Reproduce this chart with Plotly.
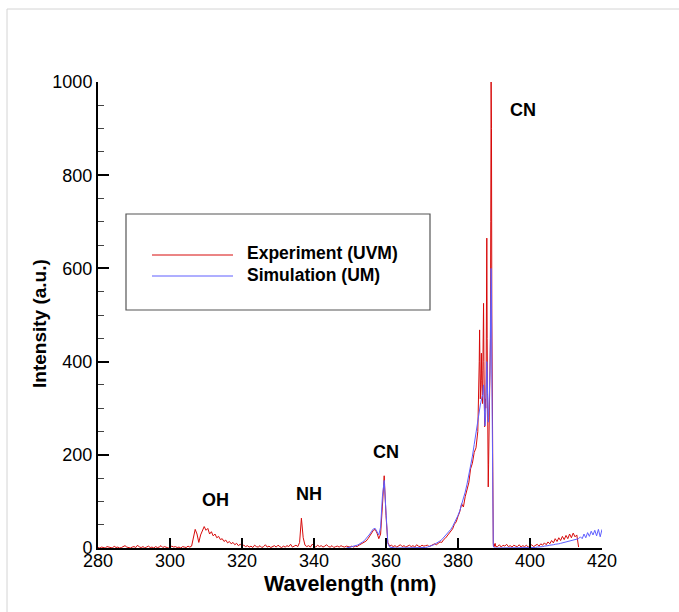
import plotly.graph_objects as go

# ---------------- Experiment (UVM) ----------------
# intensities on regular wavelength grids: (start nm, step nm)
exp_a_start, exp_a_step = 280.0, 0.5
exp_a = [1, 0, 2, 1, 0, 3, 2, 1, 0, 4, 1, 2, 0, 1, 3, 5, 2, 1, 0, 2,
         3, 1, 6, 2, 1, 3, 0, 2, 4, 1, 2, 0, 3, 1, 2, 5, 1, 3, 2, 0,
         1, 4, 2, 3, 1, 2, 0, 3, 2, 1, 4, 2]
exp_b_start, exp_b_step = 306.0, 0.5   # OH band
exp_b = [4, 20, 40, 30, 12, 28, 36, 46, 38, 42, 30, 35, 26, 30, 22, 25,
         18, 20, 14, 17, 11, 14, 9, 12, 7, 10, 5, 8, 4, 6, 3, 5]
exp_c_start, exp_c_step = 322.0, 0.5
exp_c = [2, 4, 1, 6, 3, 2, 5, 1, 3, 7, 2, 4, 1, 3, 5, 2, 6, 3, 1, 4,
         2, 5, 3, 8, 2, 4, 6, 3]
exp_d_start, exp_d_step = 336.0, 0.5   # NH line
exp_d = [12, 64, 22, 6]
exp_e_start, exp_e_step = 338.0, 0.5
exp_e = [3, 5, 2, 8, 4, 2, 6, 3, 5, 2, 4, 7, 3, 2, 5, 1, 3, 4, 2, 5,
         3, 2, 4, 3, 2, 4]
exp_f_start, exp_f_step = 351.0, 0.5   # CN (0,1) band
exp_f = [2, 4, 3, 6, 8, 10, 12, 15, 20, 26, 33, 38, 40, 32, 20, 30,
         90, 155, 70, 12, 4, 6, 3, 5]
exp_g_start, exp_g_step = 363.0, 0.5
exp_g = [2, 4, 7, 3, 5, 2, 4, 6, 3, 5, 2, 7, 4, 3, 6, 4, 5, 6, 3, 5]
exp_h_start, exp_h_step = 373.0, 0.5   # CN (0,0) band rise
exp_h = [6, 9, 7, 11, 13, 12, 18, 21, 26, 29, 36, 41, 51, 56, 68, 78,
         95, 88, 110, 128, 140, 170, 182, 205, 215, 250]
exp_i_start, exp_i_step = 385.6, 0.1   # CN (0,0) band head
exp_i = [280, 300, 330, 400, 468, 380, 320, 350, 375, 418,
         360, 330, 310, 380, 470, 525, 400, 300, 260, 290,
         320, 300, 350, 500, 665, 450, 250, 140, 131, 180,
         250, 300, 280, 320, 450, 700, 1000, 900, 500, 300,
         150, 50, 10, 5, 3, 8, 4, 10, 6, 3]
exp_j_start, exp_j_step = 391.0, 0.5
exp_j = [3, 7, 2, 6, 4, 8, 3, 5, 2, 6, 4, 3, 7, 2, 5, 3, 6, 2,
         4, 7, 3, 5, 8, 4, 9, 6, 11, 7, 13, 9, 16, 11, 20, 14, 22, 16,
         25, 18, 27, 20, 30, 22, 32, 24, 28, 2]

# ---------------- Simulation (UM) ----------------
sim_a_start, sim_a_step = 349.0, 0.5
sim_a = [0, 1, 1, 2, 3, 4, 6, 8, 10, 13, 16, 20, 25, 30, 36, 41, 42, 36,
         28, 45, 110, 145, 60, 10, 2, 1, 0, 0]
sim_b_start, sim_b_step = 363.0, 0.5
sim_b = [0, 0, 0, 0, 0, 0, 0, 0, 0, 0, 0, 0, 0, 0, 0,
         1, 1, 2, 3, 4, 6, 8, 10, 12, 15, 18, 22, 26, 30, 35, 40, 46,
         53, 61, 70, 80, 92, 105, 120, 137, 155, 175, 197, 222, 250, 275]
sim_c_start, sim_c_step = 385.6, 0.1
sim_c = [280, 285, 290, 295, 300, 305, 308, 312, 315, 318,
         320, 318, 322, 330, 345, 350, 330, 300, 275, 262,
         270, 290, 320, 360, 400, 380, 330, 290, 270, 280,
         300, 320, 340, 380, 450, 540, 600, 560, 380, 200,
         80, 20, 5, 2, 0, 0, 0, 0, 0, 0]
sim_d_start, sim_d_step = 391.0, 0.5
sim_d = [0] * 18 + [0, 1, 1, 1, 2, 2, 3, 3, 4, 4, 5, 6, 6, 7, 8, 8, 9, 10,
                    11, 12, 13, 14, 15, 16, 17, 18, 19, 20, 24, 20, 30, 22,
                    33, 25, 36, 28, 38, 26, 40, 24, 40]

x_ticks = [280, 300, 320, 340, 360, 380, 400, 420]
y_ticks = [0, 200, 400, 600, 800, 1000]


def grid(start, step, vals):
    return [round(start + step * i, 3) for i in range(len(vals))]


exp_x, exp_y = [], []
for s, d, v in [(exp_a_start, exp_a_step, exp_a), (exp_b_start, exp_b_step, exp_b),
                (exp_c_start, exp_c_step, exp_c), (exp_d_start, exp_d_step, exp_d),
                (exp_e_start, exp_e_step, exp_e), (exp_f_start, exp_f_step, exp_f),
                (exp_g_start, exp_g_step, exp_g), (exp_h_start, exp_h_step, exp_h),
                (exp_i_start, exp_i_step, exp_i), (exp_j_start, exp_j_step, exp_j)]:
    exp_x += grid(s, d, v)
    exp_y += v

sim_x, sim_y = [], []
for s, d, v in [(sim_a_start, sim_a_step, sim_a), (sim_b_start, sim_b_step, sim_b),
                (sim_c_start, sim_c_step, sim_c), (sim_d_start, sim_d_step, sim_d)]:
    sim_x += grid(s, d, v)
    sim_y += v

RED = "rgb(215,10,10)"
BLUE = "rgb(95,95,255)"
FONT = "Liberation Sans, Arial, Helvetica, sans-serif"

fig = go.Figure()
fig.add_trace(go.Scatter(x=exp_x, y=exp_y, mode="lines", name="Experiment (UVM)",
                         line=dict(color=RED, width=1)))
fig.add_trace(go.Scatter(x=sim_x, y=sim_y, mode="lines", name="Simulation (UM)",
                         line=dict(color=BLUE, width=1)))

fig.update_layout(
    width=679, height=612,
    margin=dict(l=98, r=77, t=82, b=64),
    paper_bgcolor="white", plot_bgcolor="white",
    showlegend=False,
    font=dict(family=FONT, color="black", size=18),
)
fig.update_xaxes(range=[280, 420], tickvals=x_ticks, ticks="inside", ticklen=10,
                 tickwidth=2, tickcolor="black", showline=True, linecolor="black",
                 linewidth=2, showgrid=False, zeroline=False,
                 ticklabelstandoff=-5,
                 tickfont=dict(size=18, family=FONT))
fig.update_yaxes(range=[0, 1000], tickvals=y_ticks, ticks="inside", ticklen=11,
                 tickwidth=2, tickcolor="black", showline=True, linecolor="black",
                 linewidth=2, showgrid=False, zeroline=False,
                 tickfont=dict(size=18, family=FONT),
                 minor=dict(ticks="inside", ticklen=6, tickwidth=1,
                            tickcolor="#444", dtick=50, showgrid=False))


def px2x(px):
    return (px - 98) / 504


def py2y(py):
    return (548 - py) / 466


# axis titles
fig.add_annotation(text="<b>Wavelength (nm)</b>", xref="paper", yref="paper",
                   x=0.5, y=py2y(584), showarrow=False, yanchor="middle",
                   font=dict(size=21.5, family=FONT))
fig.add_annotation(text="<b>Intensity (a.u.)</b>", xref="paper", yref="paper",
                   x=px2x(39), y=py2y(324), showarrow=False, textangle=-90,
                   xanchor="center", yanchor="middle",
                   font=dict(size=19, family=FONT))

# band labels
for txt, px, py in [("CN", 523, 110), ("CN", 386, 452), ("NH", 309, 494), ("OH", 215, 500)]:
    fig.add_annotation(text="<b>%s</b>" % txt, xref="paper", yref="paper",
                       x=px2x(px), y=py2y(py), showarrow=False,
                       xanchor="center", yanchor="middle",
                       font=dict(size=18, family=FONT))

# hand-drawn legend box
fig.add_shape(type="rect", xref="paper", yref="paper",
              x0=px2x(126), x1=px2x(430), y0=py2y(310), y1=py2y(214),
              line=dict(color="#555", width=1.2), fillcolor="white", layer="above")
fig.add_shape(type="line", xref="paper", yref="paper",
              x0=px2x(152), x1=px2x(233), y0=py2y(255), y1=py2y(255),
              line=dict(color=RED, width=1), layer="above")
fig.add_shape(type="line", xref="paper", yref="paper",
              x0=px2x(152), x1=px2x(233), y0=py2y(276), y1=py2y(276),
              line=dict(color=BLUE, width=1), layer="above")
fig.add_annotation(text="<b>Experiment (UVM)</b>", xref="paper", yref="paper",
                   x=px2x(245), y=py2y(253), xanchor="left", yanchor="middle",
                   showarrow=False, font=dict(size=17.5, family=FONT))
fig.add_annotation(text="<b>Simulation (UM)</b>", xref="paper", yref="paper",
                   x=px2x(245), y=py2y(275), xanchor="left", yanchor="middle",
                   showarrow=False, font=dict(size=17.5, family=FONT))

# light page frame (top and left)
fig.add_shape(type="line", xref="paper", yref="paper",
              x0=px2x(7), x1=px2x(700), y0=py2y(9), y1=py2y(9),
              line=dict(color="#d4d4d4", width=1))
fig.add_shape(type="line", xref="paper", yref="paper",
              x0=px2x(7), x1=px2x(7), y0=py2y(9), y1=py2y(640),
              line=dict(color="#d4d4d4", width=1))

fig.write_html("out.html")
